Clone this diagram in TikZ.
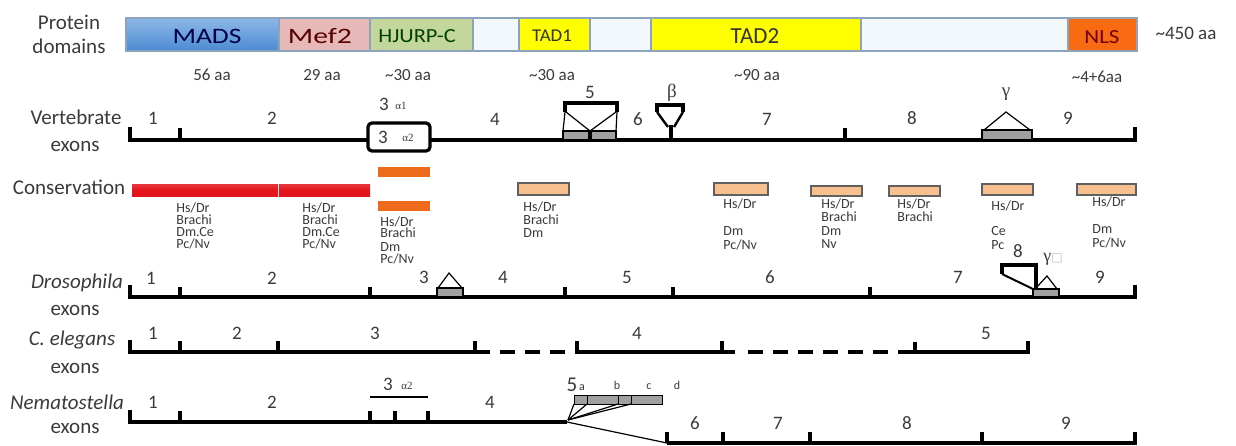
\documentclass[tikz,border=0pt]{standalone}
\usepackage{fontspec}
\setmainfont{Carlito}
\newfontfamily\grk{Liberation Serif}
\newfontfamily\djv{DejaVu Sans}
\definecolor{madsT}{HTML}{8DB8E6}
\definecolor{madsB}{HTML}{4C8BD2}
\definecolor{mefc}{HTML}{E6B9B8}
\definecolor{hjurpc}{HTML}{C3D69B}
\definecolor{blankc}{HTML}{F2F7FC}
\definecolor{tadc}{HTML}{FFFF00}
\definecolor{nlsc}{HTML}{F86B12}
\definecolor{barline}{HTML}{8DA4BC}
\definecolor{consred}{HTML}{E3141B}
\definecolor{consor}{HTML}{EE6A1C}
\definecolor{peachc}{HTML}{F9C08F}
\definecolor{exgray}{HTML}{A0A0A0}
\definecolor{txt}{HTML}{3A3A3A}
\begin{document}
\begin{tikzpicture}[x=0.5pt,y=-0.5pt,
  dombox/.style={draw=barline, line width=0.7pt},
  exl/.style={line width=1.6pt, line cap=butt, line join=miter},
  thinl/.style={line width=0.6pt},
  gbox/.style={fill=exgray, draw=black, line width=0.7pt},
  peachbox/.style={fill=peachc, draw=gray!75!black, line width=0.6pt},
  rowlab/.style={font=\fontsize{10.5}{12}\selectfont, text=txt, inner sep=0pt},
  numlab/.style={font=\fontsize{9.5}{11}\selectfont, text=txt, inner sep=0pt},
  aalab/.style={font=\fontsize{8.5}{10}\selectfont, text=txt, inner sep=0pt},
  splab/.style={font=\fontsize{7}{8}\selectfont, text=txt, anchor=west, inner sep=0pt},
  gklab/.style={font=\fontsize{5.5}{6}\grk, text=txt, inner sep=0pt},
  greek/.style={font=\fontsize{9.5}{11}\grk, text=txt, inner sep=0pt},
  domtxt/.style={inner sep=0pt}
]
\useasboundingbox (0,0) rectangle (1236,445);

% ---------------- protein domains bar ----------------
\shade[top color=madsT, bottom color=madsB] (126,18) rectangle (279,51);
\draw[dombox] (126,18) rectangle (279,51);
\draw[dombox, fill=mefc] (279,18) rectangle (370,51);
\draw[dombox, fill=hjurpc] (370,18) rectangle (473,51);
\draw[dombox, fill=blankc] (473,18) rectangle (519,51);
\draw[dombox, fill=tadc] (519,18) rectangle (590,51);
\draw[dombox, fill=blankc] (590,18) rectangle (651,51);
\draw[dombox, fill=tadc] (651,18) rectangle (861,51);
\draw[dombox, fill=blankc] (861,18) rectangle (1068,51);
\draw[dombox, fill=nlsc] (1068,18) rectangle (1137,51);

\node[domtxt, text=blue!30!black, font=\fontsize{11}{12}\selectfont] (tmads) at (207,36) {\scalebox{1.25}[1]{MADS}};
\node[domtxt, text=red!35!black, font=\fontsize{11}{12}\selectfont] (tmef) at (320,36) {\scalebox{1.35}[1]{Mef2}};
\node[domtxt, text=green!25!black, font=\fontsize{10}{12}\selectfont] (thj) at (417,36) {\scalebox{1.12}[1]{HJURP-C}};
\node[domtxt, text=black!80, font=\fontsize{9}{10}\selectfont] (ttad1) at (552,36) {\scalebox{1.05}[1]{TAD1}};
\node[domtxt, text=black!80, font=\fontsize{11.5}{13}\selectfont] (ttad2) at (755,36) {TAD2};
\node[domtxt, text=red!45!black, font=\fontsize{10}{12}\selectfont] (tnls) at (1102,37) {\scalebox{1.15}[1]{NLS}};
\node[aalab, font=\fontsize{9.5}{11}\selectfont] (t450) at (1186,33) {\textasciitilde 450 aa};

\node[aalab] (aa1) at (212,75) {56 aa};
\node[aalab] (aa2) at (322,75) {29 aa};
\node[aalab] (aa3) at (408,75) {\textasciitilde 30 aa};
\node[aalab] (aa4) at (552,75) {\textasciitilde 30 aa};
\node[aalab] (aa5) at (757,75) {\textasciitilde 90 aa};
\node[aalab] (aa6) at (1097,77) {\textasciitilde 4+6aa};

% ---------------- row labels ----------------
\node[rowlab] (pl1) at (69,22) {Protein};
\node[rowlab] (pl2) at (69,46) {domains};
\node[rowlab] (vl1) at (76,117) {Vertebrate};
\node[rowlab] (vl2) at (75,146) {exons};
\node[rowlab] (cl) at (69,187) {Conservation};
\node[rowlab] (dl1) at (77,283) {\itshape Drosophila};
\node[rowlab] (dl2) at (75,310) {exons};
\node[rowlab] (el1) at (72,340) {\itshape C. elegans};
\node[rowlab] (el2) at (75,368) {exons};
\node[rowlab] (nl1) at (67,402) {\itshape Nematostella};
\node[rowlab] (nl2) at (75,428) {exons};

% ---------------- vertebrate exons ----------------
\draw[exl] (130,127) -- (130,140) -- (1135,140) -- (1135,127);
\foreach \x in {180,845} \draw[exl] (\x,140) -- (\x,128);
\draw[exl, fill=white, rounded corners=2pt] (368,123) rectangle (430,151);
% exon 5
\draw[gbox] (563,131) rectangle (589,140);
\draw[gbox] (591,131) rectangle (616,140);
\draw[exl] (590,131) -- (590,140);
\draw[exl] (565,112) -- (565,103) -- (617,103) -- (617,112);
\draw[thinl] (565,112) -- (563,131);
\draw[thinl] (617,112) -- (616,131);
\draw[thinl] (566,112) -- (590,131) -- (616,112);
% beta
\draw[exl] (657,112) -- (657,105) -- (683,105) -- (683,112);
\draw[line width=1.2pt] (657,112) -- (668,127);
\draw[line width=1.2pt] (683,112) -- (674,127);
\draw[exl] (671,125) -- (671,140);
% gamma
\draw[gbox] (982,130) rectangle (1032,140);
\draw[thinl] (984,130) -- (1006,112) -- (1030,130);

\node[numlab] (v1) at (153,118) {1};
\node[numlab] (v2) at (272,118) {2};
\node[numlab] (v3a) at (384,104) {3};
\node[gklab] (v3a1) at (401,106) {α1};
\node[numlab] (v3b) at (383,137) {3};
\node[gklab] (v3a2) at (408,138) {α2};
\node[numlab] (v4) at (495,119) {4};
\node[numlab] (v5) at (590,92) {5};
\node[numlab] (v6) at (638,119) {6};
\node[greek] (vb) at (672,93) {β};
\node[numlab] (v7) at (767,119) {7};
\node[numlab] (v8) at (912,118) {8};
\node[greek] (vg) at (1006,94) {γ};
\node[numlab] (v9) at (1068,118) {9};

% ---------------- conservation ----------------
\shade[top color=consred!85, bottom color=consred, middle color=consred] (132,184) rectangle (278,196);
\shade[top color=consred!85, bottom color=consred, middle color=consred] (279,184) rectangle (370,196);
\fill[consor] (378,167) rectangle (430,177);
\fill[consor] (378,201) rectangle (430,211);
\draw[peachbox] (518,183) rectangle (569,195);
\draw[peachbox] (714,183) rectangle (768,195);
\draw[peachbox] (811,186) rectangle (862,196);
\draw[peachbox] (889,186) rectangle (940,196);
\draw[peachbox] (982,184) rectangle (1033,195);
\draw[peachbox] (1077,184) rectangle (1136,195);

\node[splab] (ra1) at (176,208) {Hs/Dr};
\node[splab] (ra2) at (176,220) {Brachi};
\node[splab] (ra3) at (176,232) {Dm.Ce};
\node[splab] (ra4) at (176,244) {Pc/Nv};
\node[splab] (rb1) at (302,208) {Hs/Dr};
\node[splab] (rb2) at (302,220) {Brachi};
\node[splab] (rb3) at (302,232) {Dm.Ce};
\node[splab] (rb4) at (302,244) {Pc/Nv};
\node[splab] (oa1) at (380,222) {Hs/Dr};
\node[splab] (oa2) at (380,233) {Brachi};
\node[splab] (oa3) at (380,247) {Dm};
\node[splab] (oa4) at (380,259) {Pc/Nv};
\node[splab] (pa1) at (523,207) {Hs/Dr};
\node[splab] (pa2) at (523,220) {Brachi};
\node[splab] (pa3) at (523,233) {Dm};
\node[splab] (pb1) at (723,204) {Hs/Dr};
\node[splab] (pb2) at (723,231) {Dm};
\node[splab] (pb3) at (723,245) {Pc/Nv};
\node[splab] (pc1) at (821,204) {Hs/Dr};
\node[splab] (pc2) at (821,217) {Brachi};
\node[splab] (pc3) at (821,231) {Dm};
\node[splab] (pc4) at (821,244) {Nv};
\node[splab] (pd1) at (897,204) {Hs/Dr};
\node[splab] (pd2) at (897,217) {Brachi};
\node[splab] (pe1) at (991,206) {Hs/Dr};
\node[splab] (pe2) at (991,231) {Ce};
\node[splab] (pe3) at (991,245) {Pc};
\node[splab] (pf1) at (1092,202) {Hs/Dr};
\node[splab] (pf2) at (1092,229) {Dm};
\node[splab] (pf3) at (1092,243) {Pc/Nv};

% ---------------- Drosophila ----------------
\draw[exl] (130,285) -- (130,297) -- (1135,297) -- (1135,285);
\foreach \x in {180,370,565,673,870} \draw[exl] (\x,297) -- (\x,287);
\draw[gbox] (437,288) rectangle (463,297);
\draw[thinl] (438,288) -- (449,273) -- (462,288);
\draw[exl] (1002,274) -- (1002,265) -- (1036,265) -- (1036,289);
\draw[line width=1pt] (1002,274) -- (1033,289);
\draw[gbox] (1033,289) rectangle (1059,297);
\draw[thinl] (1035,289) -- (1047,276) -- (1057,289);

\node[numlab] (d1) at (151,278) {1};
\node[numlab] (d2) at (272,278) {2};
\node[numlab] (d3) at (424,277) {3};
\node[numlab] (d4) at (503,277) {4};
\node[numlab] (d5) at (627,277) {5};
\node[numlab] (d6) at (770,277) {6};
\node[numlab] (d7) at (958,277) {7};
\node[numlab] (d8) at (1018,251) {8};
\node[numlab] (d9) at (1100,277) {9};
\node[inner sep=0pt, anchor=west] (dg) at (1043,259) {{\fontsize{9}{10}\grk\color{txt}γ}{\fontsize{6}{7}\djv\color{gray!50}□}};

% ---------------- C. elegans ----------------
\draw[exl] (130,340) -- (130,352) -- (490,352);
\foreach \x in {180,278,475} \draw[exl] (\x,352) -- (\x,341);
\draw[exl, dash pattern=on 7.5pt off 5pt] (500,352) -- (566,352);
\draw[exl] (577,341) -- (577,352) -- (735,352);
\draw[exl] (722,352) -- (722,341);
\draw[exl, dash pattern=on 7.5pt off 5pt] (748,352) -- (913,352);
\draw[exl] (913,352) -- (1028,352) -- (1028,341);
\draw[exl] (915,352) -- (915,342);

\node[numlab] (c1) at (153,333) {1};
\node[numlab] (c2) at (237,333) {2};
\node[numlab] (c3) at (375,333) {3};
\node[numlab] (c4) at (637,333) {4};
\node[numlab] (c5) at (986,333) {5};

% ---------------- Nematostella ----------------
\draw[exl] (130,410) -- (130,422) -- (567,422);
\foreach \x in {180,370,395,428} \draw[exl] (\x,422) -- (\x,411);
\draw[thinl] (567,422) -- (667,443);
\draw[exl] (667,443) -- (1135,443) -- (1135,432);
\foreach \x in {667,723,810,982} \draw[exl] (\x,443) -- (\x,432);
\draw[line width=0.8pt] (370,397) -- (428,397);
\draw[gbox, line width=0.5pt] (574,395) rectangle (587,404);
\draw[gbox, line width=0.5pt] (587,395) rectangle (618,404);
\draw[gbox, line width=0.5pt] (618,395) rectangle (631,404);
\draw[gbox, line width=0.5pt] (631,395) rectangle (662,404);
\foreach \x in {574,587,618,631} \draw[thinl] (568,420) -- (\x,404);

\node[numlab] (n1) at (153,402) {1};
\node[numlab] (n2) at (272,402) {2};
\node[numlab] (n3) at (388,384) {3};
\node[gklab] (n3a) at (407,386) {α2};
\node[numlab] (n4) at (490,402) {4};
\node[numlab, font=\fontsize{10.5}{12}\selectfont] (n5) at (572,385) {5};
\node[aalab, font=\fontsize{6}{7}\selectfont] (n5a) at (582,388) {a};
\node[aalab, font=\fontsize{6}{7}\selectfont] (n5b) at (617,385) {b};
\node[aalab, font=\fontsize{6}{7}\selectfont] (n5c) at (649,387) {c};
\node[aalab, font=\fontsize{6}{7}\selectfont] (n5d) at (677,385) {d};
\node[numlab] (n6) at (695,423) {6};
\node[numlab] (n7) at (778,423) {7};
\node[numlab] (n8) at (907,423) {8};
\node[numlab] (n9) at (1066,423) {9};
\end{tikzpicture}
\end{document}
